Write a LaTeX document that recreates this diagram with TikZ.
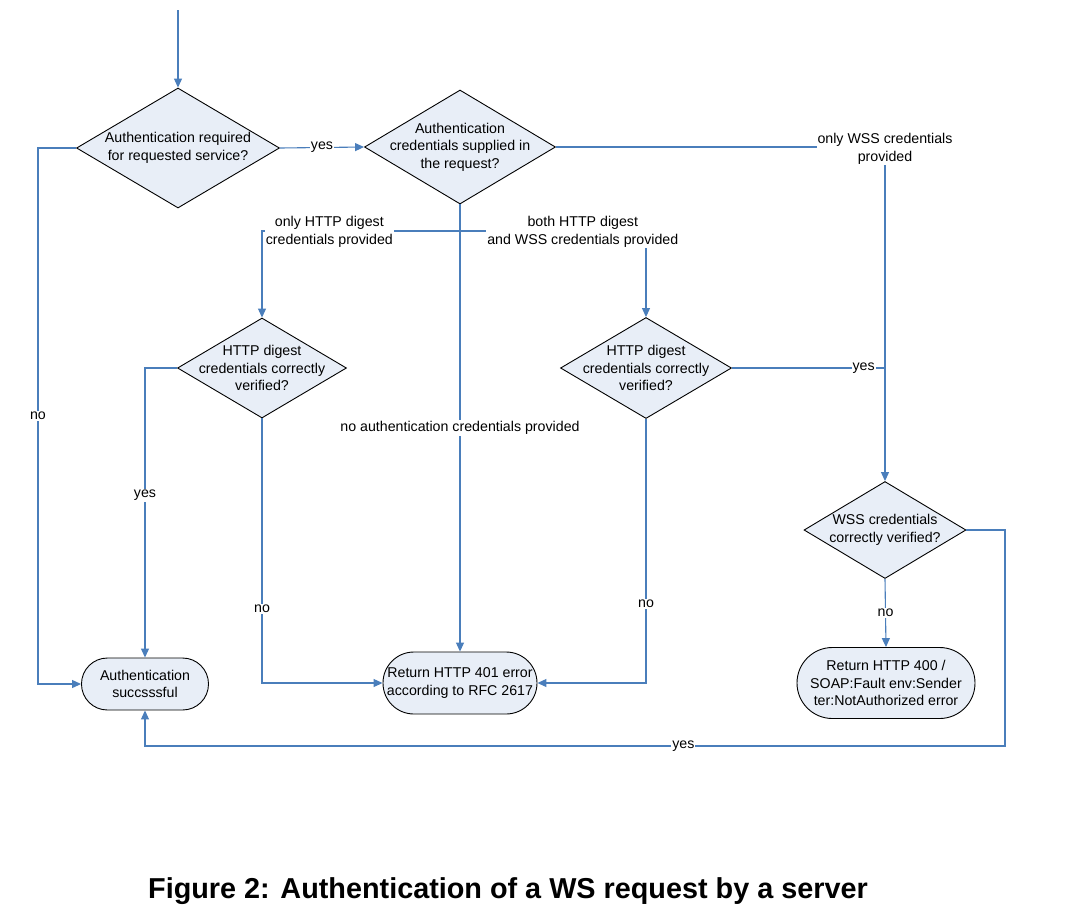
\documentclass[tikz,border=0pt]{standalone}
\usepackage{fontspec}
\setmainfont{Liberation Sans}
\usepackage{tikz}
\usetikzlibrary{arrows.meta,positioning,shapes.geometric}
\definecolor{flowblue}{RGB}{74,126,187}
\definecolor{flowfill}{RGB}{232,238,247}
\newcommand{\diagfont}{\fontsize{14.2}{17.5}\selectfont}
\tikzset{
    %Define standard arrow tip
    >={Triangle[length=9pt,width=8pt]},
    %Define style for decisions
    question/.style={
           diamond,
           shape aspect=1.7,
           draw=black, line width=0.9pt,
           fill=flowfill,
           inner xsep=-12pt,
           inner ysep=-10pt,
           font=\diagfont,
           align=center},
    %Define style for end boxes
    terminal/.style={
           rectangle,
           draw=black, line width=0.9pt,
           fill=flowfill,
           inner sep=0pt,
           font=\diagfont,
           align=center},
    %Define style for connector labels
    lbl/.style={
           fill=white,
           inner sep=1pt,
           text=black,
           font=\diagfont,
           align=center},
    % Define arrow style
    pil/.style={
           draw=flowblue,
           line width=1.1pt}
}
\begin{document}
\begin{tikzpicture}[x=1pt,y=-1pt]
\useasboundingbox (0,0) rectangle (1081,916);
 %nodes
\node[question, minimum width=203pt, minimum height=120pt] (auth) at (178,148) {Authentication required\\for requested service?};
\node[question, minimum width=191pt, minimum height=114pt] (supplied) at (460,147) {Authentication\\credentials supplied in\\the request?};
\node[question, minimum width=169pt, minimum height=100pt] (digestA) at (262,368) {HTTP digest\\credentials correctly\\verified?};
\node[question, minimum width=171pt, minimum height=101pt] (digestB) at (646,368) {HTTP digest\\credentials correctly\\verified?};
\node[question, minimum width=162pt, minimum height=97pt] (wss) at (885,530) {WSS credentials\\correctly verified?};
\node[terminal, minimum width=127pt, minimum height=52pt, rounded corners=25.9pt] (success) at (145,684) {Authentication\\succsssful};
\node[terminal, minimum width=154pt, minimum height=62pt, rounded corners=30.9pt] (err401) at (460,683) {Return HTTP 401 error\\according to RFC 2617};
\node[terminal, minimum width=178pt, minimum height=71pt, rounded corners=35.4pt] (err400) at (886,683) {Return HTTP 400 /\\SOAP:Fault env:Sender\\ter:NotAuthorized error};
\coordinate (start) at (178,10);
\coordinate (split) at (460,231);
\coordinate (loop) at (1005,746);
\coordinate (noleft) at (38,684);
 %connectors
\draw[pil,->] (start) -- (auth.north);
\draw[pil,->] (auth.east) -- node[lbl]{yes} (supplied.west);
\draw[pil,->] (supplied.south) -- node[lbl]{no authentication credentials provided} (err401.north);
\draw[pil,->] (wss.south) -- node[lbl]{no} (err400.north);
\draw[pil,->] (supplied.east) -| node[lbl, yshift=-2pt]{only WSS credentials\\provided} (wss.north);
\draw[pil,->] (split) -| node[lbl, pos=0.33, yshift=-1pt]{only HTTP digest\\credentials provided} (digestA.north);
\draw[pil,->] (split) -| node[lbl, pos=0.33, yshift=-1pt]{both HTTP digest\\and WSS credentials provided} (digestB.north);
\draw[pil,->] (digestA.west) -| node[lbl, pos=0.72]{yes} (success.north);
\draw[pil,->] (digestA.south) |- node[lbl, pos=0.36]{no} (err401.west);
\draw[pil,->] (digestB.south) |- node[lbl, pos=0.35]{no} (err401.east);
\draw[pil] (digestB.east) -- node[lbl, pos=0.86]{yes} (wss.north |- digestB.east);
\draw[pil,->] (wss.east) -| (loop) -| node[lbl, pos=0.187]{yes} (success.south);
\draw[pil,->] (auth.west) -| node[lbl, pos=0.75]{no} (noleft) -- (success.west);
 %caption
\node[font=\bfseries\fontsize{28.8}{34}\selectfont] (caption) at (508,891) {Figure 2: Authentication of a WS request by a server};
\end{tikzpicture}
\end{document}
